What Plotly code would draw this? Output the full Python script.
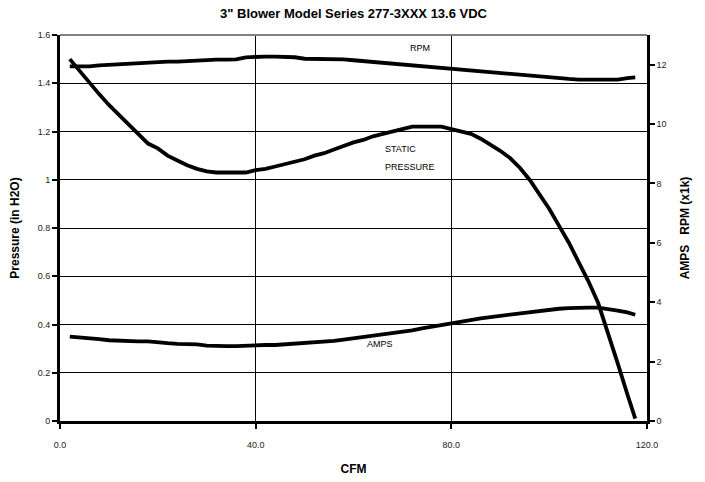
import plotly.graph_objects as go

cfm = [2, 4, 6, 8, 10, 12, 14, 16, 18, 20, 22, 24, 26, 28, 30, 32, 34, 36, 38, 40,
       42, 44, 46, 48, 50, 52, 54, 56, 58, 60, 62, 64, 66, 68, 70, 72, 74, 76, 78, 80,
       82, 84, 86, 88, 90, 92, 94, 96, 98, 100, 102, 104, 106, 108, 110, 112, 114, 116, 117.6]

pressure = [1.50, 1.45, 1.40, 1.355, 1.31, 1.27, 1.225, 1.185, 1.15, 1.13, 1.10, 1.08, 1.06, 1.045, 1.035, 1.03, 1.03, 1.03, 1.03, 1.04,
            1.045, 1.055, 1.065, 1.075, 1.085, 1.10, 1.11, 1.125, 1.14, 1.155, 1.165, 1.18, 1.19, 1.20, 1.21, 1.22, 1.22, 1.22, 1.22, 1.21,
            1.20, 1.19, 1.17, 1.145, 1.12, 1.09, 1.05, 1.00, 0.94, 0.88, 0.81, 0.74, 0.66, 0.58, 0.49, 0.37, 0.24, 0.11, 0.01]

rpm_k = [11.94, 11.94, 11.94, 11.98, 12.0, 12.0, 12.02, 12.05, 12.06, 12.08, 12.1, 12.1, 12.12, 12.15, 12.17, 12.17, 12.17, 12.18, 12.25, 12.27,
         12.27, 12.27, 12.27, 12.25, 12.2, 12.2, 12.2, 12.2, 12.18, 12.15, 12.12, 12.1, 12.07, 12.05, 12.0, 11.98, 11.96, 11.93, 11.9, 11.85,
         11.82, 11.8, 11.77, 11.73, 11.7, 11.68, 11.65, 11.62, 11.6, 11.57, 11.55, 11.52, 11.5, 11.5, 11.5, 11.5, 11.5, 11.55, 11.57]

amps = [2.84, 2.82, 2.78, 2.76, 2.72, 2.70, 2.68, 2.68, 2.68, 2.64, 2.62, 2.60, 2.60, 2.58, 2.54, 2.52, 2.52, 2.52, 2.54, 2.56,
        2.56, 2.56, 2.58, 2.60, 2.62, 2.64, 2.68, 2.70, 2.74, 2.78, 2.82, 2.86, 2.90, 2.95, 3.00, 3.05, 3.12, 3.18, 3.24, 3.30,
        3.36, 3.42, 3.46, 3.50, 3.54, 3.58, 3.63, 3.68, 3.72, 3.76, 3.78, 3.80, 3.82, 3.82, 3.82, 3.78, 3.72, 3.66, 3.58]

x_ticks = [0, 40, 80, 120]
x_labels = ["0.0", "40.0", "80.0", "120.0"]

fig = go.Figure()
fig.add_trace(go.Scatter(x=cfm, y=pressure, mode="lines", line=dict(color="black", width=3.8),
                         name="STATIC PRESSURE", yaxis="y"))
fig.add_trace(go.Scatter(x=cfm, y=rpm_k, mode="lines", line=dict(color="black", width=3.8),
                         name="RPM", yaxis="y2"))
fig.add_trace(go.Scatter(x=cfm, y=amps, mode="lines", line=dict(color="black", width=3.8),
                         name="AMPS", yaxis="y2"))

font_family = "Liberation Sans, Arial, sans-serif"

fig.update_layout(
    width=705, height=482,
    margin=dict(l=60, r=58, t=35, b=61, autoexpand=False),
    paper_bgcolor="white", plot_bgcolor="white",
    showlegend=False,
    font=dict(family=font_family, color="black", size=9),
    title=dict(text="<b>3\" Blower Model Series 277-3XXX 13.6 VDC</b>", x=0.5, xanchor="center",
               xref="paper", yref="container", y=1 - 13 / 482, yanchor="middle",
               font=dict(size=13, family=font_family, color="black")),
    xaxis=dict(range=[0, 120], tickvals=x_ticks, ticktext=x_labels, automargin=False,
               showgrid=True, gridcolor="black", gridwidth=1,
               showline=True, linecolor="black", linewidth=3,
               ticks="outside", ticklen=5, tickwidth=2, tickcolor="black",
               ticklabelstandoff=8, zeroline=False,
               tickfont=dict(size=9, color="#222"),
               title=dict(text="<b>CFM</b>", font=dict(size=12), standoff=16)),
    yaxis=dict(range=[0, 1.6], dtick=0.2, showgrid=True, gridcolor="black", gridwidth=1,
               automargin=False,
               showline=True, linecolor="black", linewidth=3,
               ticks="outside", ticklen=5, tickwidth=2, tickcolor="black", zeroline=False,
               tickfont=dict(size=9, color="#222"),
               title=dict(text="<b>Pressure (in H2O)</b>", font=dict(size=12), standoff=16)),
    yaxis2=dict(range=[0, 13], tickvals=[0, 2, 4, 6, 8, 10, 12], overlaying="y", side="right",
                automargin=False,
                showgrid=False, showline=True, linecolor="black", linewidth=2.5,
                ticks="outside", ticklen=5, tickwidth=2, tickcolor="black", zeroline=False,
                tickfont=dict(size=9, color="#222"),
                title=dict(text="<b>AMPS   RPM (x1k)</b>", font=dict(size=12), standoff=16)),
    shapes=[dict(type="line", xref="paper", yref="paper", x0=0, x1=1, y0=1, y1=1,
                 line=dict(color="#808080", width=2))],
    annotations=[
        dict(text="RPM", x=73.5, y=12.55, xref="x", yref="y2", showarrow=False, font=dict(size=9)),
        dict(text="STATIC", x=66, y=1.127, xref="x", yref="y", showarrow=False, xanchor="left", font=dict(size=9)),
        dict(text="PRESSURE", x=66, y=1.053, xref="x", yref="y", showarrow=False, xanchor="left", font=dict(size=9)),
        dict(text="AMPS", x=65.5, y=2.6, xref="x", yref="y2", showarrow=False, font=dict(size=9)),
    ],
)

fig.write_html("out.html",
               config={"displayModeBar": False},
               post_script="document.body.style.margin='0';document.body.style.overflow='hidden';")
